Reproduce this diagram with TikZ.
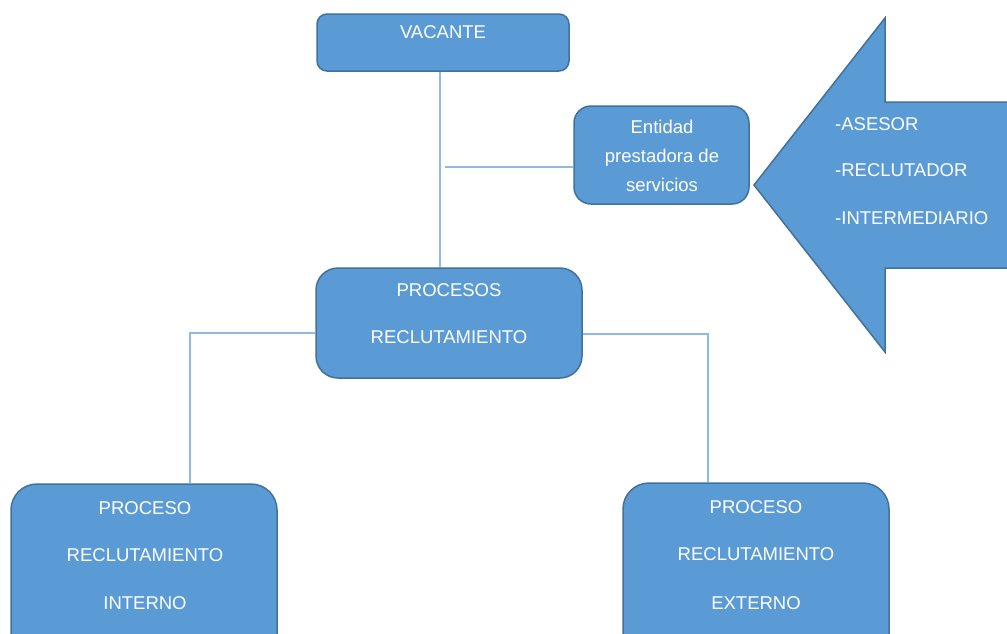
\documentclass[tikz,border=0pt]{standalone}
\usepackage{fontspec}
\setmainfont{Liberation Sans}
\definecolor{boxfill}{HTML}{5B9BD5}
\definecolor{boxedge}{HTML}{41719C}
\definecolor{wire}{HTML}{8DBAE6}
\tikzset{
  box/.style={draw=boxedge, fill=boxfill, line width=1.5pt, inner sep=0pt},
  txt/.style={text=white, inner sep=0pt, text height=13pt, text depth=0pt,
              font=\fontsize{18.5}{22}\selectfont},
  wireline/.style={draw=wire, line width=1.1pt}
}
\begin{document}
\begin{tikzpicture}[x=1pt,y=-1pt]
\useasboundingbox (0,0) rectangle (1007,633);
\clip (0,0) rectangle (1007,633);
\fill[white] (0,0) rectangle (1007,633);

% connectors (behind the boxes)
\coordinate (split) at (440,167);
\coordinate (tapL) at (445,167);
\coordinate (kneeL) at (190,333);
\coordinate (kneeR) at (708,334);

% boxes
\node[box, rounded corners=10pt, minimum width=252pt, minimum height=57pt] (vac) at (443,42.5) {};
\node[box, rounded corners=17pt, minimum width=175pt, minimum height=98pt] (ent) at (661.5,155) {};
\node[box, rounded corners=22pt, minimum width=266pt, minimum height=110pt] (proc) at (449,323) {};
\node[box, rounded corners=26pt, minimum width=266pt, minimum height=190pt] (intr) at (144,579) {};
\node[box, rounded corners=26pt, minimum width=266pt, minimum height=190pt] (extr) at (756,578) {};

% wiring
\draw[wireline] (vac.south -| split) -- (proc.north -| split);
\draw[wireline] (tapL) -- (tapL -| ent.west);
\draw[wireline] (kneeL -| proc.west) -- (kneeL) -- (kneeL |- intr.north);
\draw[wireline] (kneeR -| proc.east) -- (kneeR) -- (kneeR |- extr.north);

% left-pointing block arrow
\path[fill=boxfill] (1020,102) -- (885,102) -- (885,18) -- (754,185) -- (885,352) -- (885,268) -- (1020,268) -- cycle;
\draw[boxedge, line width=1.5pt, line join=miter]
  (1020,102) -- (885,102) -- (885,18) -- (754,185) -- (885,352) -- (885,268) -- (1020,268);

% texts
\node[txt] (tvac) at (443,32) {VACANTE};
\node[txt] (tent1) at (662,127) {Entidad};
\node[txt] (tent2) at (662,156) {prestadora de};
\node[txt] (tent3) at (662,185) {servicios};
\node[txt, anchor=west] (tar1) at (835,124) {-ASESOR};
\node[txt, anchor=west] (tar2) at (835,170) {-RECLUTADOR};
\node[txt, anchor=west] (tar3) at (835,218) {-INTERMEDIARIO};
\node[txt] (tproc1) at (449,290) {PROCESOS};
\node[txt] (tproc2) at (449,337) {RECLUTAMIENTO};
\node[txt] (tint1) at (145,508) {PROCESO};
\node[txt] (tint2) at (145,555) {RECLUTAMIENTO};
\node[txt] (tint3) at (145,603) {INTERNO};
\node[txt] (text1) at (756,507) {PROCESO};
\node[txt] (text2) at (756,554) {RECLUTAMIENTO};
\node[txt] (text3) at (756,603) {EXTERNO};
\end{tikzpicture}
\end{document}
